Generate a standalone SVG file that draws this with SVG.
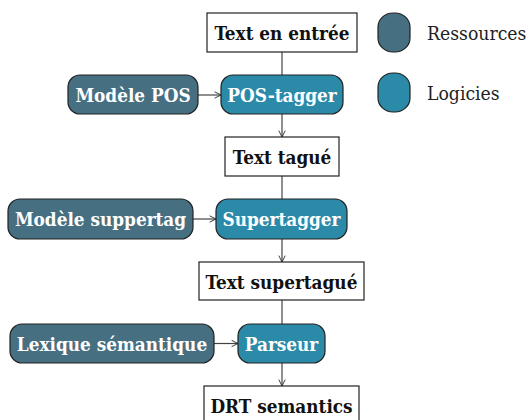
<svg xmlns="http://www.w3.org/2000/svg" width="529" height="420" viewBox="0 0 529 420">
<defs>
<marker id="arr" viewBox="0 0 10 10" refX="9" refY="5" markerWidth="8" markerHeight="8" markerUnits="userSpaceOnUse" orient="auto">
<path d="M1,1 L9,5 L1,9" fill="none" stroke="#333" stroke-width="1.2"/>
</marker>
</defs>
<style>
.box{fill:#fff;stroke:#222;stroke-width:1.2}
.res{fill:#466f82;stroke:#222;stroke-width:1.2}
.log{fill:#2a8aa8;stroke:#222;stroke-width:1.2}
text{font-family:"DejaVu Serif Condensed","DejaVu Serif",serif;font-stretch:condensed;font-weight:bold;font-size:18.8px;text-anchor:middle}
.w{fill:#fff}
.k{fill:#111}
.leg{font-weight:normal;text-anchor:start;fill:#222;font-size:19.2px}
.edge{stroke:#444;stroke-width:1.2;fill:none}
</style>
<g id="connectors">
<line class="edge" x1="282" y1="52" x2="282" y2="75"/>
<line class="edge" x1="282" y1="114" x2="282" y2="137" marker-end="url(#arr)"/>
<line class="edge" x1="282" y1="176" x2="282" y2="199"/>
<line class="edge" x1="282" y1="239" x2="282" y2="262" marker-end="url(#arr)"/>
<line class="edge" x1="282" y1="300" x2="282" y2="324"/>
<line class="edge" x1="282" y1="363" x2="282" y2="386" marker-end="url(#arr)"/>
<line class="edge" x1="198" y1="95" x2="221" y2="95" marker-end="url(#arr)"/>
<line class="edge" x1="193" y1="219" x2="216" y2="219" marker-end="url(#arr)"/>
<line class="edge" x1="214" y1="343.5" x2="238" y2="343.5" marker-end="url(#arr)"/>
</g>
<g id="input"><rect class="box" x="207" y="13" width="150" height="39"/><text class="k" x="282" y="40">Text en entrée</text></g>
<g id="postagger"><rect class="log" x="221" y="75" width="122" height="39" rx="12"/><text class="w" x="282" y="101.5">POS-tagger</text></g>
<g id="modelepos"><rect class="res" x="68" y="75" width="130" height="39" rx="12"/><text class="w" x="133" y="101.5">Modèle POS</text></g>
<g id="tagged"><rect class="box" x="225" y="137" width="114" height="39"/><text class="k" x="282" y="164">Text tagué</text></g>
<g id="supertagger"><rect class="log" x="216" y="199" width="131" height="40" rx="12"/><text class="w" x="281.5" y="226">Supertagger</text></g>
<g id="modelesup"><rect class="res" x="8" y="199" width="185" height="40" rx="12"/><text class="w" x="100.5" y="226">Modèle suppertag</text></g>
<g id="supertagged"><rect class="box" x="199" y="262" width="165" height="38"/><text class="k" x="281.5" y="288.5">Text supertagué</text></g>
<g id="parseur"><rect class="log" x="238" y="324" width="87" height="39" rx="12"/><text class="w" x="281.5" y="350.5">Parseur</text></g>
<g id="lexique"><rect class="res" x="10" y="324" width="204" height="39" rx="12"/><text class="w" x="112" y="350.5">Lexique sémantique</text></g>
<g id="drt"><rect class="box" x="204" y="386" width="155" height="39"/><text class="k" x="281.5" y="413">DRT semantics</text></g>
<g id="legend-res"><rect class="res" x="378" y="13" width="32" height="39" rx="15" ry="14"/><text class="leg" x="427" y="40">Ressources</text></g>
<g id="legend-log"><rect class="log" x="378" y="73" width="32" height="39" rx="15" ry="14"/><text class="leg" x="427" y="100">Logicies</text></g>
</svg>
